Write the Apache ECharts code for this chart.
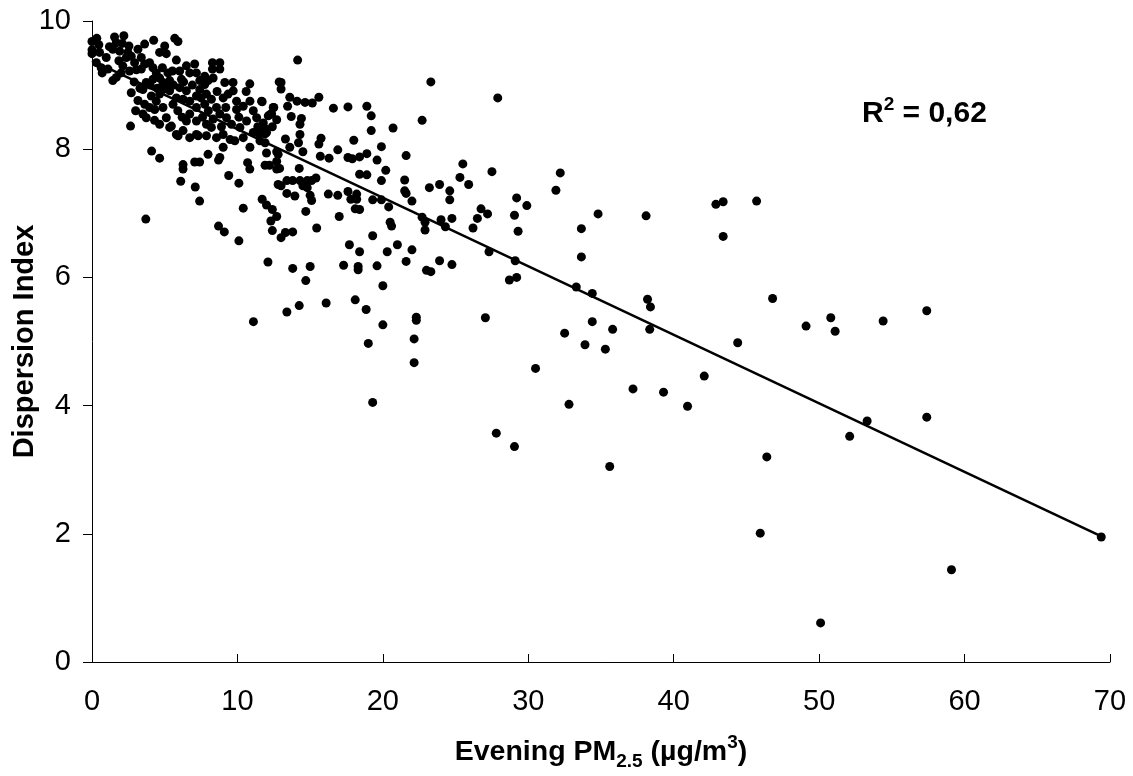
<!DOCTYPE html>
<html>
<head>
<meta charset="utf-8">
<script src="https://cdn.jsdelivr.net/npm/echarts@6/dist/echarts.min.js"></script>
<style>
html,body{margin:0;padding:0;background:#fff;}
#chart{width:1133px;height:776px;}
</style>
</head>
<body>
<div id="chart"></div>
<script>
// Evening PM2.5 (µg/m3) values of the scattered observations
const pm = [
0.0,0.33,0.47,0.0,0.0,0.52,1.55,2.19,1.67,2.08,2.54,1.43,1.9,2.47,0.98,0.63,0.7,1.43,1.67,2.0,2.12,1.85,2.36,2.7,2.93,3.05,2.58,3.62,4.24,5.0,5.69,5.91,4.65,5.11,3.16,3.39,3.62,3.39,3.96,4.19,4.42,4.84,5.22,5.53,5.8,6.49,7.06,6.72,6.03,6.15,4.65,4.19,3.73,4.88,5.34,5.11,8.28,8.79,8.28,8.79,7.18,7.75,7.41,7.98,8.33,9.13,9.7,10.85,12.87,
2.70,3.50,3.16,3.62,3.96,3.50,3.73,4.31,4.42,4.08,4.65,4.88,5.34,5.80,5.57,4.88,5.11,4.65,5.34,6.03,6.49,6.26,6.72,7.18,7.41,7.75,7.87,8.21,7.75,7.18,6.72,6.49,7.18,7.87,8.33,8.79,8.56,9.02,9.36,9.71,9.94,10.40,9.94,9.25,9.59,10.17,10.63,11.09,10.86,11.66,11.32,11.78,12.12,12.46,12.35,12.00,11.09,10.40,9.82,9.02,8.56,8.21,7.87,7.18,6.72,6.26,5.80,5.46,2.65,5.92,7.30,7.98,8.79,9.02,10.86,11.55,12.8,
0.3,1.1,1.2,2.9,3.3,4.0,4.5,5.6,6.3,6.9,7.5,8.0,8.6,9.2,10.1,10.6,11.4,3.0,4.3,5.9,6.2,7.6,8.9,9.5,11.9,12.4,
3.7,4.1,4.65,6.1,6.26,6.26,7.1,7.4,7.06,7.4,8.7,9.4,10.1,10.4,8.7,9.1,10.1,10.7,10.85,11.9,12.2,11.7,12.0,12.4,12.7,12.3,12.7,12.7,12.8,12.0,12.7,
23.3,13.0,13.0,13.6,14.1,14.65,15.15,15.6,11.7,12.5,12.3,13.45,12.7,13.7,14.4,14.3,16.6,17.6,18.9,19.2,19.2,20.7,22.7,11.9,11.9,11.5,14.3,14.2,13.3,13.6,15.75,15.6,18.0,19.9,16.9,14.5,15.7,16.3,17.6,17.9,18.4,18.9,19.6,21.6,12.9,14.25,20.2,18.4,18.9,15.4,19.9,21.5,13.4,13.8,14.3,14.8,15.1,13.0,14.5,14.8,23.2,21.5,21.6,13.4,13.95,15.0,15.1,16.25,16.9,17.6,18.2,17.8,18.2,19.3,19.9,20.4,22.0,14.7,18.1,18.4,17.0,20.5,20.6,22.7,22.9,14.14,
19.3,22.15,22.15,22.3,22.3,19.0,20.0,18.85,18.1,16.1,14.25,13.4,20.0,14.7,12.1,13.8,15.0,17.3,18.3,18.3,19.6,17.7,18.4,20.3,21.0,22.0,21.6,23.0,23.3,23.9,24.75,19.3,12.4,13.0,13.3,13.8,15.45,22.9,11.1,
27.9,25.5,27.5,25.3,25.9,23.9,24.6,24.6,32.2,31.9,29.2,29.9,26.75,27.2,26.5,29.05,24.0,24.75,24.3,26.2,29.3,34.8,38.1,33.65,33.65,27.3,29.1,
27.05,28.7,29.2,33.3,34.4,38.2,38.4,38.35,34.4,35.8,32.5,33.9,35.3,30.5,37.2,32.8,27.8,29.05,35.6,
69.4,59.1,50.1,45.95,46.4,52.1,53.3,57.4,44.4,42.1,39.3,40.95,51.1,42.9,43.4,45.7,43.4,46.8,49.1,50.8,54.4,57.4
];
// Dispersion Index of the same observations
const di = [
9.68,9.73,9.63,9.55,9.49,9.51,9.75,9.77,9.66,9.65,9.61,9.56,9.53,9.51,9.43,9.27,9.19,9.07,9.12,9.19,9.30,9.38,9.43,9.45,9.35,9.24,9.22,9.64,9.70,9.61,9.73,9.68,9.51,9.49,9.56,9.43,9.33,9.25,9.35,9.27,9.19,9.27,9.19,9.22,9.39,9.30,9.33,9.19,9.22,9.09,9.11,9.09,9.04,9.04,9.07,8.97,9.35,9.35,9.25,9.25,9.19,9.14,9.07,9.07,9.11,9.04,9.04,9.02,9.05,
8.88,8.93,8.76,8.70,8.65,8.55,8.49,8.62,8.75,8.83,8.86,8.93,8.91,8.80,8.70,8.65,8.49,8.39,8.34,8.96,8.91,8.78,8.75,8.83,8.93,9.01,8.86,8.78,8.70,8.65,8.55,8.44,8.44,8.39,8.47,8.55,8.65,8.80,8.86,8.91,8.75,8.67,8.62,8.49,8.39,8.34,8.44,8.60,8.75,8.75,8.49,8.41,8.52,8.65,8.55,8.26,8.26,8.18,8.13,8.23,8.18,8.34,8.21,8.23,8.18,8.29,8.23,8.36,8.36,8.21,8.21,7.92,7.87,8.03,8.03,8.13,7.92,
9.35,9.25,9.6,9.05,8.95,9.0,8.95,9.0,9.05,9.0,8.8,8.6,8.9,8.65,8.5,8.9,8.35,8.6,8.45,8.6,8.5,8.5,8.35,8.15,8.1,8.35,
6.91,7.97,7.86,7.50,7.76,7.69,7.41,7.19,7.80,7.80,7.83,7.59,7.47,7.08,6.80,6.71,6.57,7.79,7.69,7.75,7.75,7.22,7.13,7.06,6.95,6.88,7.81,7.69,7.45,7.94,7.96,
9.05,9.04,8.94,8.81,8.75,8.73,8.72,8.81,8.74,8.65,8.55,8.67,8.46,8.51,8.48,8.39,8.64,8.66,8.67,8.52,8.29,8.33,8.45,8.32,8.24,8.24,8.23,8.10,8.16,8.03,8.17,8.08,8.14,8.04,7.99,7.96,7.89,7.86,7.87,7.85,7.88,7.93,7.83,7.90,7.70,7.70,7.67,7.61,7.60,7.55,7.51,7.52,7.51,7.51,7.51,7.51,7.51,7.43,7.43,7.40,7.40,7.35,7.31,7.31,7.27,7.28,7.20,7.30,7.28,7.34,7.30,7.22,7.22,7.21,7.21,7.10,7.19,7.03,7.07,7.06,6.95,6.86,6.80,6.94,6.86,9.39,
4.05,4.67,5.04,5.38,5.33,4.97,5.26,5.50,5.65,5.60,5.56,5.46,5.87,5.95,6.24,6.14,6.17,6.19,6.17,6.12,6.18,6.51,6.40,6.40,6.51,6.43,6.25,6.11,6.09,6.26,6.20,6.65,6.73,6.62,6.70,6.71,6.77,6.74,5.31,
8.80,7.77,7.65,7.56,7.45,7.45,7.35,7.21,7.63,7.36,7.24,7.12,7.07,6.99,6.92,6.97,6.90,6.92,6.79,6.77,6.72,6.99,6.96,6.76,6.32,6.40,6.26,
5.37,5.96,6.00,5.85,5.75,5.66,5.54,5.19,5.31,5.19,5.13,4.95,4.88,4.58,4.26,4.02,3.57,3.36,3.05,
1.95,1.44,0.61,2.01,3.20,3.52,3.76,3.82,4.98,4.46,4.21,3.99,5.16,7.14,7.18,7.19,6.64,5.67,5.24,5.37,5.32,5.48
];
// Linear trend line end points (R² = 0,62)
const trendX = [0, 69.3];
const trendY = [9.38, 1.97];
const xTicks = {min: 0, max: 70, step: 10};
const yTicks = {min: 0, max: 10, step: 2};
const rSquared = '0,62';

const points = pm.map((x, i) => [x, di[i]]);
const trend = trendX.map((x, i) => [x, trendY[i]]);

const chart = echarts.init(document.getElementById('chart'), null, {renderer: 'canvas'});
const FONT = 'Liberation Sans, Arial, sans-serif';
chart.setOption({
  backgroundColor: '#ffffff',
  animation: false,
  grid: {left: 92, right: 23, top: 21, bottom: 114, containLabel: false, outerBoundsMode: 'none'},
  xAxis: {
    type: 'value', min: xTicks.min, max: xTicks.max, interval: xTicks.step,
    axisLine: {show: true, onZero: false, lineStyle: {color: '#000', width: 1}},
    axisTick: {show: true, inside: true, length: 8, lineStyle: {color: '#000'}},
    axisLabel: {fontSize: 29, color: '#000', margin: 25, fontFamily: FONT},
    splitLine: {show: false},
    name: '{b|Evening PM}{sub|2.5}{b| (µg/m}{sup|3}{b|)}',
    nameLocation: 'middle', nameGap: 71, nameMoveOverlap: false,
    nameTextStyle: {
      rich: {
        b: {fontSize: 28.5, fontWeight: 'bold', fontFamily: FONT, color: '#000', lineHeight: 38},
        sub: {fontSize: 19, fontWeight: 'bold', fontFamily: FONT, color: '#000', lineHeight: 19, verticalAlign: 'bottom'},
        sup: {fontSize: 19, fontWeight: 'bold', fontFamily: FONT, color: '#000', lineHeight: 19, verticalAlign: 'top'}
      }
    }
  },
  yAxis: {
    type: 'value', min: yTicks.min, max: yTicks.max, interval: yTicks.step,
    axisLine: {show: true, lineStyle: {color: '#000', width: 1}},
    axisTick: {show: true, inside: false, length: 9, lineStyle: {color: '#000'}},
    axisLabel: {fontSize: 29, color: '#000', margin: 21, fontFamily: FONT},
    splitLine: {show: false},
    name: 'Dispersion Index', nameLocation: 'middle', nameGap: 53, nameMoveOverlap: false,
    nameTextStyle: {fontSize: 29, fontWeight: 'bold', fontFamily: FONT, color: '#000'}
  },
  graphic: [{
    type: 'text', left: 862, top: 95,
    style: {
      text: '{b|R}{sup|2}{b| = ' + rSquared + '}',
      rich: {
        b: {fontSize: 30, fontWeight: 'bold', fontFamily: FONT, fill: '#000', lineHeight: 38},
        sup: {fontSize: 19, fontWeight: 'bold', fontFamily: FONT, fill: '#000', lineHeight: 19, verticalAlign: 'top'}
      }
    }
  }],
  series: [
    {
      type: 'scatter', data: points, symbol: 'circle', symbolSize: 9,
      itemStyle: {color: '#000', opacity: 1}, silent: true, z: 3
    },
    {
      type: 'line', data: trend, showSymbol: false, symbol: 'none',
      lineStyle: {color: '#000', width: 2.5}, silent: true, z: 4
    }
  ]
});
</script>
</body>
</html>
